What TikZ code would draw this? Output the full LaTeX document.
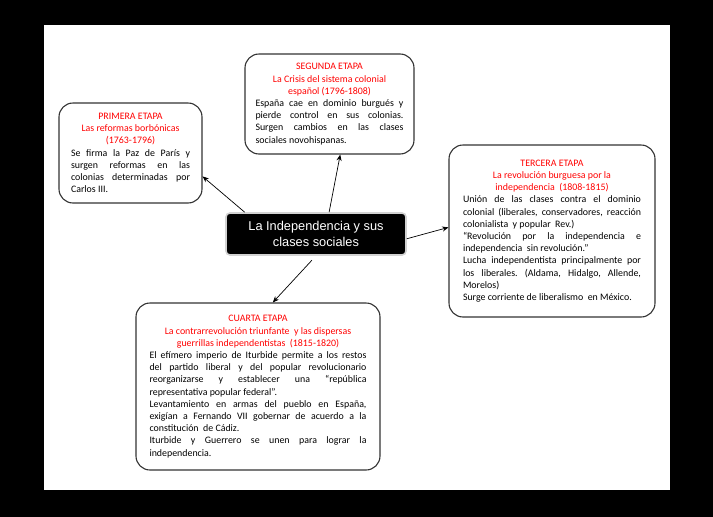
\documentclass[tikz,border=0pt]{standalone}
\usepackage{fontspec}
\setmainfont{Carlito}
\newfontfamily\arialfont{Liberation Sans}
\usetikzlibrary{arrows.meta}
\definecolor{rojo}{HTML}{FF0000}
\definecolor{borde}{HTML}{333333}

\begin{document}
\begin{tikzpicture}[x=1pt, y=-1pt, font=\fontsize{9.9}{12.2}\selectfont,
  etapa/.style={draw=borde, line width=1.1pt, rounded corners=14pt, fill=white,
    inner xsep=2pt, inner ysep=4pt, align=justify,
    execute at begin node={\frenchspacing\hyphenpenalty=10000\tolerance=9999\hbadness=10000\emergencystretch=2em}},
  centro/.style={fill=black, text=white, draw=gray!35, line width=1.6pt, rounded corners=4pt,
    align=center, minimum width=180pt, minimum height=42pt,
    font=\arialfont\fontsize{12.8}{16}\selectfont},
  flecha/.style={-{Stealth[length=2.2mm, width=1.8mm]}, line width=0.7pt}]
  % marco
  \fill[black] (0,0) rectangle (713,517);
  \fill[white] (44,25) rectangle (670,490);

  \node[centro] (centro) at (316,234) {La Independencia y sus\\clases sociales};

  \node[etapa, text width=119pt, minimum width=143pt, minimum height=100pt] (primera) at (130.5,153)
    {{\centering\color{rojo}PRIMERA ETAPA\\Las reformas borbónicas\\(1763-1796)\par}
     Se firma la Paz de París y\linebreak surgen reformas en las\linebreak
     colonias determinadas por\linebreak Carlos III.};

  \node[etapa, text width=148pt, minimum width=169pt, minimum height=100pt] (segunda) at (329.5,104)
    {{\centering\color{rojo}SEGUNDA ETAPA\\La Crisis del sistema colonial\\español (1796-1808)\par}
     España cae en dominio burgués y\linebreak pierde control en sus colonias.\linebreak
     Surgen cambios en las clases\linebreak sociales novohispanas.};

  \node[etapa, text width=178pt, minimum width=206pt, minimum height=172pt] (tercera) at (552,231)
    {{\centering\color{rojo}TERCERA ETAPA\\La revolución burguesa por la\\independencia~ (1808-1815)\par}
     Unión de las clases contra el dominio\linebreak colonial (liberales, conservadores, reacción\linebreak
     colonialista~ y popular~ Rev.)\par
     “Revolución por la independencia e\linebreak independencia~ sin revolución.”\par
     Lucha independentista principalmente por\linebreak los liberales. (Aldama, Hidalgo, Allende,\linebreak Morelos)\par
     Surge corriente de liberalismo~ en México.};

  \node[etapa, text width=217pt, minimum width=244pt, minimum height=167pt] (cuarta) at (258,386.5)
    {{\centering\color{rojo}CUARTA ETAPA\\La contrarrevolución triunfante~ y las dispersas\\guerrillas independentistas~ (1815-1820)\par}
     El efímero imperio de Iturbide permite a los restos\linebreak
     del partido liberal y del popular revolucionario\linebreak
     reorganizarse y establecer una “república\linebreak representativa popular federal”.\par
     Levantamiento en armas del pueblo en España,\linebreak
     exigían a Fernando VII gobernar de acuerdo a la\linebreak constitución~ de Cádiz.\par
     Iturbide y Guerrero se unen para lograr la\linebreak independencia.};

  \draw[flecha] (centro.163) -- (primera.-18);
  \draw[flecha] (centro.59) -- (segunda.-78);
  \draw[flecha] (centro.-3) -- (tercera.178);
  \draw[flecha, shorten <=6pt] (centro.south) -- (cuarta.80);
\end{tikzpicture}
\end{document}
